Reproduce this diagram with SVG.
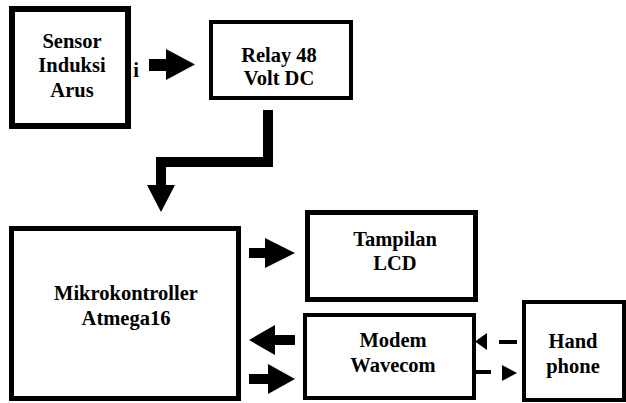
<svg xmlns="http://www.w3.org/2000/svg" width="626" height="403" viewBox="0 0 626 403">
<style>
.box{fill:#fff;stroke:#000}
.t{font-family:'Liberation Serif','DejaVu Serif Condensed','DejaVu Serif',serif;font-weight:700;font-size:20.5px;fill:#000;text-anchor:middle}
.a{fill:#000;stroke:none}
</style>
<rect width="626" height="403" fill="#fff"/>
<g id="sensor">
<rect class="box" x="12" y="9" width="116" height="117" stroke-width="6"/>
<text class="t" x="72" y="48">Sensor</text>
<text class="t" x="72" y="72">Induksi</text>
<text class="t" x="72" y="97">Arus</text>
</g>
<text class="t" x="136" y="77">i</text>
<g id="relay">
<rect class="box" x="211" y="22" width="140" height="76" stroke-width="4"/>
<text class="t" x="279" y="62">Relay 48</text>
<text class="t" x="279" y="85">Volt DC</text>
</g>
<g id="mikro">
<rect class="box" x="11.5" y="228.5" width="227" height="170" stroke-width="5"/>
<text class="t" x="126" y="300">Mikrokontroller</text>
<text class="t" x="126" y="325">Atmega16</text>
</g>
<g id="lcd">
<rect class="box" x="307.5" y="212.5" width="168" height="87" stroke-width="5"/>
<text class="t" x="395" y="246">Tampilan</text>
<text class="t" x="395" y="270">LCD</text>
</g>
<g id="modem">
<rect class="box" x="305" y="315" width="169" height="83" stroke-width="4"/>
<text class="t" x="393" y="347">Modem</text>
<text class="t" x="393" y="372">Wavecom</text>
</g>
<g id="hand">
<rect class="box" x="524" y="302" width="100" height="98" stroke-width="4"/>
<text class="t" x="573" y="348">Hand</text>
<text class="t" x="573" y="373">phone</text>
</g>
<g id="connectors">
<polygon class="a" points="149,59 166,59 166,49 195,64.5 166,80 166,71 149,71"/>
<polygon class="a" points="263,110 273,110 273,167 166,167 166,185 175,185 161,212 147,185 156,185 156,157 263,157"/>
<polygon class="a" points="249,248 265,248 265,238 295,253 265,268 265,258 249,258"/>
<polygon class="a" points="295,335 275,335 275,325 249,340 275,355 275,345 295,345"/>
<polygon class="a" points="249,374 268,374 268,364 295,379 268,394 268,384 249,384"/>
<polygon class="a" points="475,341.5 487,333 487,350"/>
<rect class="a" x="499" y="340" width="18" height="4"/>
<rect class="a" x="475" y="370" width="16" height="4"/>
<polygon class="a" points="502,365 517,373 502,381"/>
</g>
</svg>
